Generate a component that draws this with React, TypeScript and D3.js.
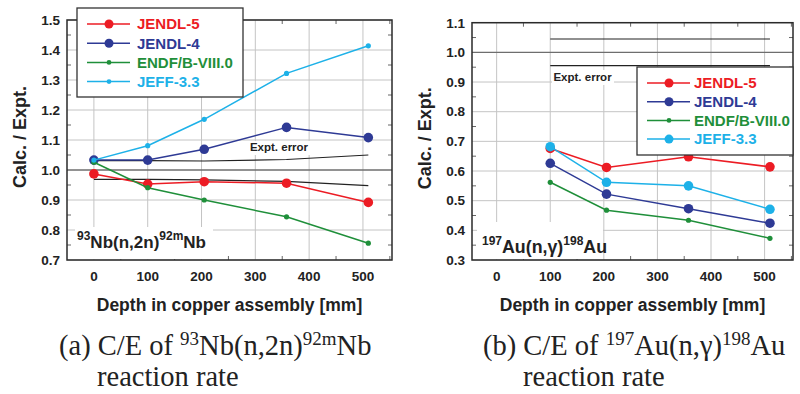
import React from "react";
import * as d3 from "d3";

// ---------- data ----------
const seriesNames = ["JENDL-5", "JENDL-4", "ENDF/B-VIII.0", "JEFF-3.3"];
const seriesColors = ["#ec1c24", "#2e3a95", "#1f8f3a", "#1db1e8"];

const depthsA = [0, 100, 205, 358, 510];
const jendl5A = [0.987, 0.953, 0.961, 0.956, 0.892];
const jendl4A = [1.033, 1.033, 1.069, 1.142, 1.108];
const endfA = [1.026, 0.941, 0.9, 0.844, 0.756];
const jeffA = [1.033, 1.081, 1.169, 1.322, 1.414];
const errUpperA = [1.031, 1.031, 1.03, 1.035, 1.05];
const errLowerA = [0.969, 0.969, 0.967, 0.962, 0.948];

const depthsB = [100, 205, 358, 510];
const jendl5B = [0.676, 0.612, 0.648, 0.614];
const jendl4B = [0.626, 0.522, 0.473, 0.424];
const endfB = [0.562, 0.468, 0.434, 0.373];
const jeffB = [0.682, 0.562, 0.55, 0.471];
const errDepthsB = [100, 510];
const errUpperB = [1.045, 1.045];
const errLowerB = [0.955, 0.955];

const xTicks = [0, 100, 200, 300, 400, 500];
const xMinorTicks = [50, 150, 250, 350, 450, 550];
const yTicksA = [0.7, 0.8, 0.9, 1.0, 1.1, 1.2, 1.3, 1.4, 1.5];
const yTicksB = [0.3, 0.4, 0.5, 0.6, 0.7, 0.8, 0.9, 1.0, 1.1];

const SANS = "'Liberation Sans', Arial, Helvetica, sans-serif";
const SERIF = "'Liberation Serif', 'Times New Roman', serif";

type PanelProps = {
  x0: number;
  x1: number;
  y0: number;
  y1: number;
  xDomain: [number, number];
  yDomain: [number, number];
  yTicks: number[];
  depths: number[];
  values: number[][];
  radii: number[];
  errDepths: number[];
  errUpper: number[];
  errLower: number[];
  errLabel: [number, number];
  legend: { x: number; y: number; w: number; h: number; step: number; radii: number[]; tx: number };
  annot: { x: number; y: number; pre: string; mid: string; sup: string; post: string; size: number };
  annotBox: [number, number, number, number];
  errBox: [number, number, number, number];
  yTitleX: number;
};

function Panel(p: PanelProps) {
  const x = d3.scaleLinear().domain(p.xDomain).range([p.x0, p.x1]);
  const y = d3.scaleLinear().domain(p.yDomain).range([p.y1, p.y0]);
  const line = d3
    .line<[number, number]>()
    .x((d) => x(d[0]))
    .y((d) => y(d[1]));
  const yMinor: number[] = [];
  for (let i = 0; i < p.yTicks.length - 1; i++) yMinor.push((p.yTicks[i] + p.yTicks[i + 1]) / 2);
  const gridColor = "#c4c4c4";
  const tickLen = 4;
  return (
    <g>
      {/* grid */}
      {xTicks.map((t) => (
        <line key={"gx" + t} x1={x(t)} x2={x(t)} y1={p.y0} y2={p.y1} stroke={gridColor} strokeWidth={1} />
      ))}
      {p.yTicks.map((t) => (
        <line
          key={"gy" + t}
          x1={p.x0}
          x2={p.x1}
          y1={y(t)}
          y2={y(t)}
          stroke={Math.abs(t - 1) < 1e-6 ? "#6e6e6e" : gridColor}
          strokeWidth={Math.abs(t - 1) < 1e-6 ? 1.3 : 1}
        />
      ))}
      {/* minor ticks */}
      {xMinorTicks.map((t) => (
        <g key={"mx" + t}>
          <line x1={x(t)} x2={x(t)} y1={p.y1} y2={p.y1 - tickLen} stroke="#666" strokeWidth={1} />
          <line x1={x(t)} x2={x(t)} y1={p.y0} y2={p.y0 + tickLen} stroke="#666" strokeWidth={1} />
        </g>
      ))}
      {yMinor.map((t) => (
        <g key={"my" + t}>
          <line x1={p.x0} x2={p.x0 + tickLen} y1={y(t)} y2={y(t)} stroke="#666" strokeWidth={1} />
          <line x1={p.x1} x2={p.x1 - tickLen} y1={y(t)} y2={y(t)} stroke="#666" strokeWidth={1} />
        </g>
      ))}
      {/* annotation backgrounds */}
      <rect x={p.annotBox[0]} y={p.annotBox[1]} width={p.annotBox[2]} height={p.annotBox[3]} fill="#fff" />
      <rect x={p.errBox[0]} y={p.errBox[1]} width={p.errBox[2]} height={p.errBox[3]} fill="#fff" />
      {/* expt error lines */}
      <path d={line(p.errDepths.map((d, i) => [d, p.errUpper[i]]) as [number, number][]) || ""} fill="none" stroke="#222" strokeWidth={1.2} />
      <path d={line(p.errDepths.map((d, i) => [d, p.errLower[i]]) as [number, number][]) || ""} fill="none" stroke="#222" strokeWidth={1.2} />
      <text x={x(p.errLabel[0])} y={y(p.errLabel[1])} fontFamily={SANS} fontWeight="bold" fontSize={11.5} fill="#222">
        Expt. error
      </text>
      {/* series */}
      {p.values.map((vals, si) => (
        <g key={"s" + si}>
          <path
            d={line(p.depths.map((d, i) => [d, vals[i]]) as [number, number][]) || ""}
            fill="none"
            stroke={seriesColors[si]}
            strokeWidth={1.5}
          />
          {p.depths.map((d, i) => (
            <circle key={i} cx={x(d)} cy={y(vals[i])} r={p.radii[si]} fill={seriesColors[si]} />
          ))}
        </g>
      ))}
      {/* frame */}
      <rect x={p.x0} y={p.y0} width={p.x1 - p.x0} height={p.y1 - p.y0} fill="none" stroke="#2a2a2a" strokeWidth={1.5} />
      {/* tick labels */}
      {xTicks.map((t) => (
        <text key={"xl" + t} x={x(t)} y={p.y1 + 21} textAnchor="middle" fontFamily={SANS} fontWeight="bold" fontSize={13.5} fill="#222">
          {t}
        </text>
      ))}
      {p.yTicks.map((t) => (
        <text key={"yl" + t} x={p.x0 - 7} y={y(t) + 4.8} textAnchor="end" fontFamily={SANS} fontWeight="bold" fontSize={13.5} fill="#222">
          {t.toFixed(1)}
        </text>
      ))}
      {/* axis titles */}
      <text x={(p.x0 + p.x1) / 2} y={p.y1 + 51} textAnchor="middle" fontFamily={SANS} fontWeight="bold" fontSize={17.5} fill="#222">
        Depth in copper assembly [mm]
      </text>
      <text
        transform={`translate(${p.yTitleX},${(p.y0 + p.y1) / 2 - 3}) rotate(-90)`}
        textAnchor="middle"
        dy="0.35em"
        fontFamily={SANS}
        fontWeight="bold"
        fontSize={18}
        fill="#222"
      >
        Calc. / Expt.
      </text>
      {/* annotation */}
      <text x={p.annot.x} y={p.annot.y} fontFamily={SANS} fontWeight="bold" fontSize={p.annot.size} fill="#222">
        <tspan fontSize={12} dy={-8}>
          {p.annot.pre}
        </tspan>
        <tspan dy={8}>{p.annot.mid}</tspan>
        <tspan fontSize={12} dy={-8}>
          {p.annot.sup}
        </tspan>
        <tspan dy={8}>{p.annot.post}</tspan>
      </text>
      {/* legend */}
      <rect x={p.legend.x} y={p.legend.y} width={p.legend.w} height={p.legend.h} fill="#fff" stroke="#333" strokeWidth={1.3} />
      {seriesNames.map((name, i) => {
        const ly = p.legend.y + 16 + i * p.legend.step;
        return (
          <g key={"lg" + i}>
            <line x1={p.legend.x + 10} x2={p.legend.x + 53} y1={ly} y2={ly} stroke={seriesColors[i]} strokeWidth={1.5} />
            <circle cx={p.legend.x + 32} cy={ly} r={p.legend.radii[i]} fill={seriesColors[i]} />
            <text x={p.legend.x + p.legend.tx} y={ly + 5.3} fontFamily={SANS} fontWeight="bold" fontSize={15} fill={seriesColors[i]}>
              {name}
            </text>
          </g>
        );
      })}
    </g>
  );
}

export default function App() {
  return (
    <svg width={800} height={394} style={{ display: "block", position: "absolute", left: 0, top: 0, background: "#fff" }}>
      <rect width={800} height={394} fill="#fff" />
      <Panel
        x0={67}
        x1={392}
        y0={20}
        y1={260}
        xDomain={[-50, 554]}
        yDomain={[0.7, 1.5]}
        yTicks={yTicksA}
        depths={depthsA}
        values={[jendl5A, jendl4A, endfA, jeffA]}
        radii={[4.8, 4.8, 2.6, 2.6]}
        errDepths={depthsA}
        errUpper={errUpperA}
        errLower={errLowerA}
        errLabel={[290, 1.064]}
        errBox={[248, 141, 62, 14]}
        legend={{ x: 77, y: 8, w: 166, h: 89, step: 19.2, radii: [4.5, 4.5, 2.4, 2.4], tx: 60 }}
        annot={{ x: 77, y: 248, pre: "93", mid: "Nb(n,2n)", sup: "92m", post: "Nb", size: 17 }}
        annotBox={[75, 227, 138, 32]}
        yTitleX={20}
      />
      <Panel
        x0={472}
        x1={793}
        y0={22.7}
        y1={260}
        xDomain={[-46, 553]}
        yDomain={[0.3, 1.1]}
        yTicks={yTicksB}
        depths={depthsB}
        values={[jendl5B, jendl4B, endfB, jeffB]}
        radii={[4.8, 4.8, 2.6, 4.8]}
        errDepths={errDepthsB}
        errUpper={errUpperB}
        errLower={errLowerB}
        errLabel={[106, 0.903]}
        errBox={[552, 70, 62, 15]}
        legend={{ x: 637, y: 67, w: 156, h: 88, step: 18.7, radii: [4.5, 4.5, 2.4, 4.5], tx: 57 }}
        annot={{ x: 482, y: 253, pre: "197", mid: "Au(n,\u03b3)", sup: "198", post: "Au", size: 17.8 }}
        annotBox={[477, 222, 126, 37]}
        yTitleX={425}
      />
      {/* captions */}
      <text x={59} y={355} fontFamily={SERIF} fontSize={28.5} fill="#222">
        (a) C/E of{" "}
        <tspan fontSize={19} dy={-10}>
          93
        </tspan>
        <tspan dy={10}>Nb(n,2n)</tspan>
        <tspan fontSize={19} dy={-10}>
          92m
        </tspan>
        <tspan dy={10}>Nb</tspan>
      </text>
      <text x={97} y={386} fontFamily={SERIF} fontSize={28.5} fill="#222">
        reaction rate
      </text>
      <text x={483} y={355} fontFamily={SERIF} fontSize={28.5} fill="#222">
        (b) C/E of{" "}
        <tspan fontSize={19} dy={-10}>
          197
        </tspan>
        <tspan dy={10}>Au(n,γ)</tspan>
        <tspan fontSize={19} dy={-10}>
          198
        </tspan>
        <tspan dy={10}>Au</tspan>
      </text>
      <text x={523} y={386} fontFamily={SERIF} fontSize={28.5} fill="#222">
        reaction rate
      </text>
    </svg>
  );
}
